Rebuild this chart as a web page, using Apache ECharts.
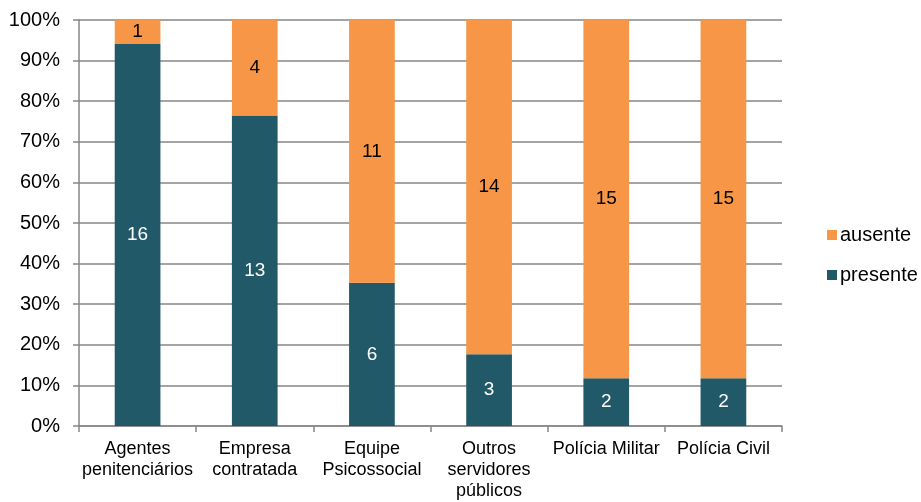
<!DOCTYPE html>
<html>
<head>
<meta charset="utf-8">
<script src="https://cdn.jsdelivr.net/npm/echarts@6/dist/echarts.min.js"></script>
<style>html,body{margin:0;padding:0;background:#fff}#c{width:921px;height:502px}</style>
</head>
<body>
<div id="c"></div>
<script>
const categories = ['Agentes\npenitenciários', 'Empresa\ncontratada', 'Equipe\nPsicossocial', 'Outros\nservidores\npúblicos', 'Polícia Militar', 'Polícia Civil'];
const presente = [16, 13, 6, 3, 2, 2];
const ausente = [1, 4, 11, 14, 15, 15];
const yTicks = [0, 10, 20, 30, 40, 50, 60, 70, 80, 90, 100];

const totals = presente.map((v, i) => v + ausente[i]);
const pct = (arr) => arr.map((v, i) => ({ value: v / totals[i] * 100, raw: v }));

const chart = echarts.init(document.getElementById('c'));
const font = 'Liberation Sans, Arial, sans-serif';
chart.setOption({
  animation: false,
  textStyle: { fontFamily: font },
  grid: { left: 79, right: 139, top: 20, bottom: 75, containLabel: false },
  legend: {
    orient: 'vertical', left: 822, top: 220, itemWidth: 10, itemHeight: 10, itemGap: 20,
    icon: 'rect',
    data: ['ausente', 'presente'],
    textStyle: { fontSize: 20, color: '#000', fontFamily: font, padding: [0, 0, 0, -2] }
  },
  xAxis: {
    type: 'category', data: categories,
    axisLine: { lineStyle: { color: '#868686', width: 1.5 } },
    axisTick: { show: true, length: 6, lineStyle: { color: '#868686', width: 1.5 } },
    axisLabel: { fontSize: 18, color: '#000', margin: 13, lineHeight: 21, interval: 0, fontFamily: font }
  },
  yAxis: {
    type: 'value', min: 0, max: 100, interval: 10,
    axisLine: { show: true, lineStyle: { color: '#868686', width: 1.5 } },
    axisTick: { show: true, length: 6, lineStyle: { color: '#868686', width: 1.5 } },
    splitLine: { lineStyle: { color: '#868686', width: 1.5 } },
    axisLabel: { fontSize: 20, color: '#000', margin: 19, formatter: (v) => yTicks.includes(v) ? v + '%' : '', fontFamily: font }
  },
  series: [
    {
      name: 'presente', type: 'bar', stack: 'a', barCategoryGap: '61%',
      data: pct(presente),
      itemStyle: { color: '#215968' },
      label: { show: true, position: 'inside', color: '#fff', fontSize: 19, fontFamily: font, formatter: (p) => p.data.raw }
    },
    {
      name: 'ausente', type: 'bar', stack: 'a', barCategoryGap: '61%',
      data: pct(ausente),
      itemStyle: { color: '#F79646' },
      label: { show: true, position: 'inside', color: '#000', fontSize: 19, fontFamily: font, formatter: (p) => p.data.raw }
    }
  ]
});
</script>
</body>
</html>
